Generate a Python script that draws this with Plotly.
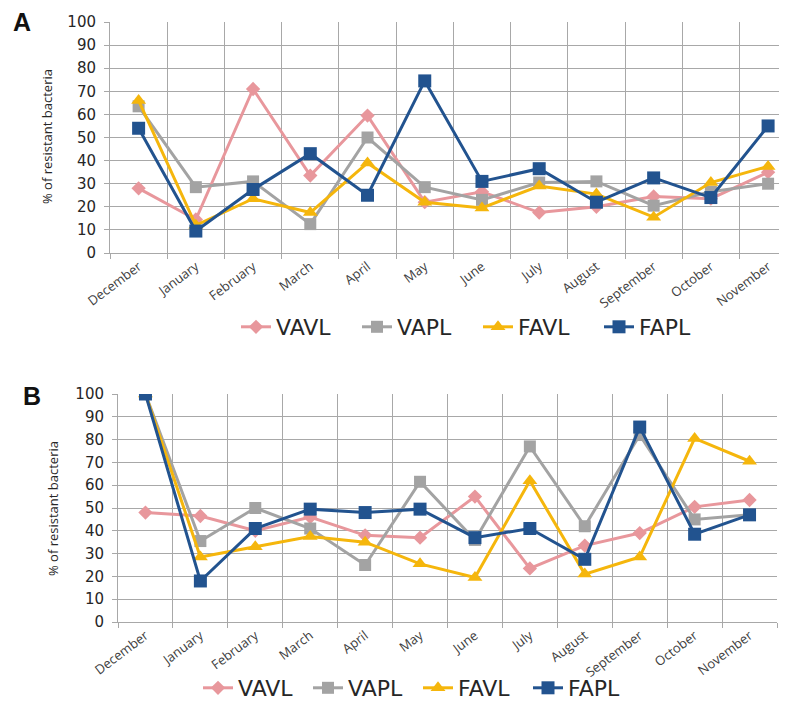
import plotly.graph_objects as go

months = ["December", "January", "February", "March", "April", "May", "June",
          "July", "August", "September", "October", "November"]

# Panel A
A_VAVL = [28, 14.5, 71, 33.5, 59.5, 22, 26.5, 17.5, 20, 24.5, 23.5, 35]
A_VAPL = [63.5, 28.5, 31, 12.5, 50, 28.5, 23, 30.5, 31, 20.5, 26.5, 30]
A_FAVL = [66, 12, 23.5, 17.5, 39, 22, 19.5, 29, 25.5, 15.5, 30.5, 37.5]
A_FAPL = [54, 9.5, 27.5, 43, 25, 74.5, 31, 36.5, 22, 32.5, 24, 55]

# Panel B
B_VAVL = [48, 46.5, 40, 46, 38, 37, 55, 23.5, 33.5, 39, 50.5, 53.5]
B_VAPL = [100, 35.5, 50, 41, 25, 61.5, 36, 77, 42, 82, 45, 47]
B_FAVL = [100, 28.5, 33, 37.5, 35, 25.5, 19.5, 62, 21, 28.5, 80.5, 70.5]
B_FAPL = [100, 18, 41, 49.5, 48, 49.5, 37, 41, 27.5, 85.5, 38.5, 47]

series_names = ["VAVL", "VAPL", "FAVL", "FAPL"]
colors = ["#E8979C", "#A3A3A3", "#F5B60C", "#22538F"]
symbols = ["diamond", "square", "triangle-up", "square"]
sizes = [11, 12, 13, 13]

W, H = 787, 702
OFF = 8  # page body margin

fig = go.Figure()

for vals, xa, ya, lg in [
    ([A_VAVL, A_VAPL, A_FAVL, A_FAPL], "x", "y", "legend"),
    ([B_VAVL, B_VAPL, B_FAVL, B_FAPL], "x2", "y2", "legend2"),
]:
    for name, v, c, s, sz in zip(series_names, vals, colors, symbols, sizes):
        fig.add_trace(go.Scatter(
            x=months, y=v, name=name, mode="lines+markers",
            line=dict(color=c, width=3),
            marker=dict(symbol=s, size=sz, color=c, line=dict(width=0)),
            xaxis=xa, yaxis=ya, legend=lg, showlegend=True,
        ))

grid = "#A8A8A8"
ytick_font = dict(family="DejaVu Sans", size=15, color="#262626")
xtick_font = dict(family="Open Sans", size=13, color="#404040")

def px_x(p):
    return (p - OFF) / W

def px_y(p):
    return 1 - (p - OFF) / H

common_x = dict(type="category", tickson="boundaries", ticks="outside", ticklen=5,
                tickcolor=grid, showgrid=True, gridcolor=grid, gridwidth=1,
                tickangle=-37, tickfont=xtick_font, showline=True, linecolor=grid,
                linewidth=1, zeroline=False, fixedrange=True, automargin=False)
common_y = dict(range=[0, 100], dtick=10, ticks="outside", ticklen=5, tickcolor=grid,
                showgrid=True, gridcolor=grid, gridwidth=1, tickfont=ytick_font,
                showline=True, linecolor=grid, linewidth=1, zeroline=False,
                ticklabelstandoff=5, automargin=False, fixedrange=True)

legend_font = dict(family="DejaVu Sans", size=22, color="#262626")

fig.update_layout(
    template="none",
    width=W, height=H,
    margin=dict(l=0, r=0, t=0, b=0, autoexpand=False),
    paper_bgcolor="white", plot_bgcolor="white",
    xaxis=dict(common_x, domain=[px_x(110), 1.0], range=[-0.5, 11.47], anchor="y"),
    yaxis=dict(common_y, domain=[px_y(253), px_y(22)], anchor="x"),
    xaxis2=dict(common_x, domain=[px_x(118), px_x(777)], range=[-0.5, 11.5], anchor="y2"),
    yaxis2=dict(common_y, domain=[px_y(622), px_y(394)], anchor="x2"),
    legend=dict(orientation="h", x=px_x(236), xanchor="left", y=px_y(327), yanchor="middle",
                font=legend_font, entrywidth=76, entrywidthmode="pixels",
                bgcolor="rgba(0,0,0,0)", itemclick=False, itemdoubleclick=False),
    legend2=dict(orientation="h", x=px_x(198), xanchor="left", y=px_y(688), yanchor="middle",
                 font=legend_font, entrywidth=65, entrywidthmode="pixels",
                 bgcolor="rgba(0,0,0,0)", itemclick=False, itemdoubleclick=False),
    showlegend=True,
    annotations=[
        dict(text="<b>A</b>", x=px_x(22), y=px_y(22), xref="paper", yref="paper",
             showarrow=False, font=dict(family="Liberation Sans", size=25, color="#111111"),
             xanchor="center", yanchor="middle"),
        dict(text="<b>B</b>", x=px_x(32), y=px_y(396), xref="paper", yref="paper",
             showarrow=False, font=dict(family="Liberation Sans", size=25, color="#111111"),
             xanchor="center", yanchor="middle"),
        dict(text="% of resistant bacteria", x=px_x(47), y=px_y(137), xref="paper", yref="paper",
             showarrow=False, textangle=-90, font=dict(family="Open Sans", size=13, color="#262626"),
             xanchor="center", yanchor="middle"),
        dict(text="% of resistant bacteria", x=px_x(53), y=px_y(509), xref="paper", yref="paper",
             showarrow=False, textangle=-90, font=dict(family="Open Sans", size=13, color="#262626"),
             xanchor="center", yanchor="middle"),
    ],
)

fig.write_html("out.html")
